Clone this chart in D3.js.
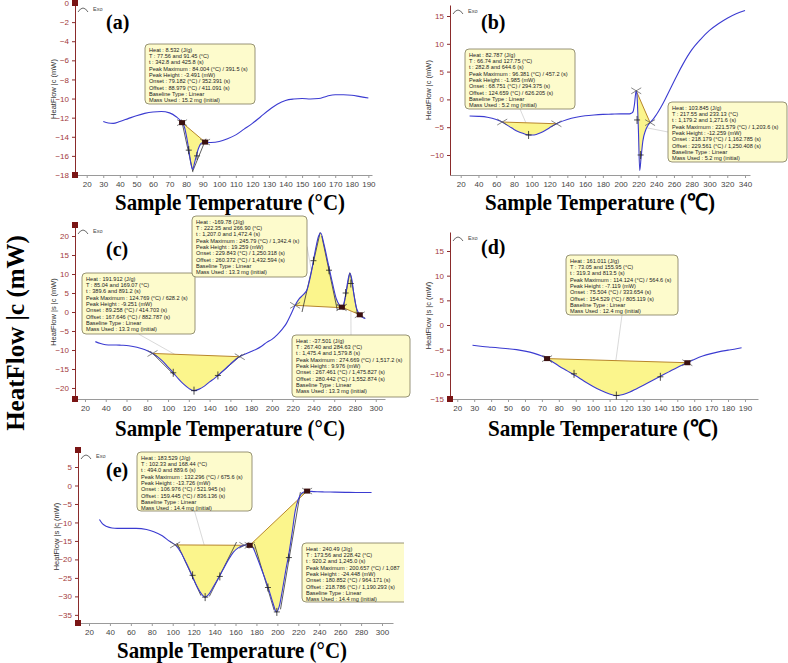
<!DOCTYPE html>
<html>
<head>
<meta charset="utf-8">
<script src="https://cdn.jsdelivr.net/npm/d3@7"></script>
<style>
  body { margin: 0; background: #fff; }
  svg { display: block; font-family: "Liberation Sans", Arial, sans-serif; }
</style>
</head>
<body>
<svg id="chart" width="788" height="663"></svg>
<script>
// ---- panel (a) ----
var aTemp = [30, 33, 36, 40, 45, 50, 55, 60, 65, 70, 74, 77.5, 79, 80.5, 82, 83, 84, 85, 86, 87.5, 89, 91, 95, 100, 105, 110, 115, 120, 125, 130, 135, 140, 145, 150, 155, 160, 165, 170, 175, 180, 185, 190];
var aHeat = [-12.4, -12.55, -12.6, -12.4, -12.1, -11.8, -11.55, -11.4, -11.35, -11.5, -11.9, -12.5, -13.0, -14.2, -15.8, -16.9, -17.4, -16.8, -16.1, -15.2, -14.7, -14.55, -14.6, -14.5, -14.2, -13.8, -13.2, -12.6, -11.9, -11.2, -10.6, -10.2, -10.05, -10.0, -10.05, -10.0, -9.75, -9.6, -9.6, -9.65, -9.8, -9.95];
var aPeaks = [[77.56, 91.45]];
var aNote = ["Heat :  8.532 (J/g)", "T : 77.56 and 91.45 (°C)", "t : 342.8 and 425.8 (s)", "Peak Maximum :  84.004 (°C) / 391.5 (s)", "Peak Height :  -3.491 (mW)", "Onset :  79.182 (°C) / 352.391 (s)", "Offset :  88.979 (°C) / 411.091 (s)", "Baseline Type :  Linear", "Mass Used :  15.2 mg (initial)"];

// ---- panel (b) ----
var bTemp = [30, 40, 50, 60, 66, 70, 75, 80, 85, 90, 95, 100, 105, 110, 115, 120, 125, 130, 140, 150, 160, 170, 180, 190, 200, 205, 210, 212, 214, 215.5, 217.5, 218.5, 220, 221.5, 223, 225, 228, 231, 233, 236, 240, 245, 250, 255, 260, 265, 270, 280, 290, 300, 310, 320, 330, 340];
var bHeat = [-3.0, -3.05, -3.2, -3.6, -4.0, -4.4, -4.9, -5.4, -5.8, -6.1, -6.35, -6.4, -6.3, -6.0, -5.6, -5.1, -4.6, -4.2, -3.6, -3.2, -2.95, -2.8, -2.7, -2.65, -2.6, -2.6, -2.6, -2.5, -2.2, -1.0, 1.6, 0.5, -5.5, -12.8, -10.5, -7.5, -5.6, -4.6, -4.2, -3.7, -2.8, -1.5, 0, 1.6, 3.2, 4.8, 6.3, 8.9, 10.8, 12.4, 13.6, 14.6, 15.4, 16.0];
var bPeaks = [[66.74, 127.75], [217.55, 233.13]];
var bNote1 = ["Heat :  82.787 (J/g)", "T : 66.74 and 127.75 (°C)", "t : 282.8 and 644.6 (s)", "Peak Maximum :  96.381 (°C) / 457.2 (s)", "Peak Height :  -1.985 (mW)", "Onset :  68.751 (°C) / 294.375 (s)", "Offset :  124.659 (°C) / 626.205 (s)", "Baseline Type :  Linear", "Mass Used :  5.2 mg (initial)"];
var bNote2 = ["Heat :  103.845 (J/g)", "T : 217.55 and 233.13 (°C)", "t : 1,179.2 and 1,271.6 (s)", "Peak Maximum :  221.579 (°C) / 1,203.6 (s)", "Peak Height :  -12.259 (mW)", "Onset :  218.179 (°C) / 1,162.785 (s)", "Offset :  229.561 (°C) / 1,250.408 (s)", "Baseline Type :  Linear", "Mass Used :  5.2 mg (initial)"];

// ---- panel (c) ----
var cTemp = [30, 35, 40, 45, 50, 55, 60, 65, 70, 75, 80, 85, 90, 95, 100, 105, 110, 115, 120, 125, 130, 135, 140, 145, 150, 155, 160, 165, 170, 175, 180, 185, 190, 195, 200, 205, 210, 214, 218, 222, 226, 230, 234, 238, 242, 245, 247, 250, 254, 258, 262, 265, 267, 269, 271, 273, 275, 277, 279, 281, 283, 285, 288, 290];
var cHeat = [-7.8, -8.3, -8.6, -8.7, -8.7, -8.75, -8.8, -9.0, -9.3, -9.7, -10.2, -10.9, -11.8, -13.0, -14.5, -16.0, -17.6, -19.0, -20.1, -20.7, -20.3, -19.5, -18.4, -17.4, -16.2, -15.0, -13.7, -12.5, -11.6, -11.0, -10.4, -9.8, -9.0, -8.0, -7.2, -6.0, -4.5, -3.0, -0.8, 1.6, 3.4, 4.5, 6.0, 10.5, 16.5, 20.0, 20.8, 18.0, 13.0, 8.0, 3.5, 1.8, 1.1, 2.0, 4.5, 8.0, 10.2, 8.5, 4.5, 1.5, 0, -0.9, -1.5, -1.7];
var cPeaks = [[85.04, 169.07], [222.35, 266.9], [267.4, 284.63]];
var cNote1 = ["Heat :  191.912 (J/g)", "T : 85.04 and 169.07 (°C)", "t : 389.6 and 891.2 (s)", "Peak Maximum :  124.769 (°C) / 628.2 (s)", "Peak Height :  -9.251 (mW)", "Onset :  89.258 (°C) / 414.703 (s)", "Offset :  167.646 (°C) / 882.787 (s)", "Baseline Type :  Linear", "Mass Used :  13.3 mg (initial)"];
var cNote2 = ["Heat :  -169.78 (J/g)", "T : 222.35 and 266.90 (°C)", "t : 1,207.0 and 1,472.4 (s)", "Peak Maximum :  245.79 (°C) / 1,342.4 (s)", "Peak Height :  19.259 (mW)", "Onset :  229.843 (°C) / 1,250.318 (s)", "Offset :  260.372 (°C) / 1,432.594 (s)", "Baseline Type :  Linear", "Mass Used :  13.3 mg (initial)"];
var cNote3 = ["Heat :  -37.501 (J/g)", "T : 267.40 and 284.63 (°C)", "t : 1,475.4 and 1,579.8 (s)", "Peak Maximum :  274.669 (°C) / 1,517.2 (s)", "Peak Height :  9.976 (mW)", "Onset :  267.461 (°C) / 1,475.827 (s)", "Offset :  280.442 (°C) / 1,552.874 (s)", "Baseline Type :  Linear", "Mass Used :  13.3 mg (initial)"];

// ---- panel (d) ----
var dTemp = [29, 35, 40, 45, 50, 55, 60, 65, 70, 73, 76, 80, 85, 90, 95, 100, 105, 110, 114, 118, 122, 126, 130, 135, 140, 145, 150, 155, 160, 165, 170, 175, 180, 185, 188];
var dHeat = [-4.1, -4.35, -4.5, -4.65, -4.8, -5.0, -5.3, -5.7, -6.3, -6.8, -7.4, -8.3, -9.3, -10.3, -11.4, -12.4, -13.3, -14.0, -14.3, -14.1, -13.6, -12.9, -12.2, -11.3, -10.4, -9.5, -8.6, -7.8, -7.0, -6.3, -5.8, -5.4, -5.1, -4.8, -4.6];
var dPeaks = [[73.05, 155.95]];
var dNote = ["Heat :  161.011 (J/g)", "T : 73.05 and 155.95 (°C)", "t : 319.3 and 813.5 (s)", "Peak Maximum :  114.124 (°C) / 564.6 (s)", "Peak Height :  -7.119 (mW)", "Onset :  75.504 (°C) / 333.654 (s)", "Offset :  154.529 (°C) / 805.119 (s)", "Baseline Type :  Linear", "Mass Used :  12.4 mg (initial)"];

// ---- panel (e) ----
var eTemp = [30, 33, 37, 42, 47, 55, 65, 75, 82, 90, 97, 103, 108, 113, 118, 123, 128, 131, 134, 138, 143, 148, 153, 158, 163, 168, 172, 176, 180, 184, 188, 192, 196, 199, 202, 205, 208, 211, 214, 217, 220, 223, 226, 228, 232, 238, 245, 255, 265, 275, 285, 290];
var eHeat = [-9.2, -10.4, -11.1, -11.5, -11.6, -11.6, -11.6, -11.9, -12.5, -13.6, -15.1, -16.2, -18.2, -21.0, -24.0, -27.2, -29.5, -30.2, -29.6, -27.8, -25.4, -22.8, -20.2, -18.0, -16.8, -16.2, -16.0, -16.5, -19.0, -22.0, -25.0, -28.3, -32.0, -34.2, -32.5, -28.0, -23.0, -18.5, -13.0, -7.0, -3.8, -2.2, -1.7, -1.5, -1.6, -1.7, -1.75, -1.8, -1.85, -1.9, -1.9, -1.9];
var ePeaks = [[102.33, 168.44], [173.56, 228.42]];
var eNote1 = ["Heat :  183.529 (J/g)", "T : 102.33 and 168.44 (°C)", "t : 494.0 and 889.6 (s)", "Peak Maximum :  132.296 (°C) / 675.6 (s)", "Peak Height :  -13.726 (mW)", "Onset :  106.976 (°C) / 521.945 (s)", "Offset :  159.445 (°C) / 836.136 (s)", "Baseline Type :  Linear", "Mass Used :  14.4 mg (initial)"];
var eNote2 = ["Heat :  240.49 (J/g)", "T : 173.56 and 228.42 (°C)", "t : 920.2 and 1,245.0 (s)", "Peak Maximum :  200.657 (°C) / 1,087", "Peak Height :  -24.448 (mW)", "Onset :  180.852 (°C) / 964.171 (s)", "Offset :  218.786 (°C) / 1,190.293 (s)", "Baseline Type :  Linear", "Mass Used :  14.4 mg (initial)"];

// layout of the five panels (pixels + axis domains)
var panels = [
  { tag: "(a)", temp: aTemp, heat: aHeat, peaks: aPeaks, yLabel: "HeatFlow |c (mW)", unit: "(°C)",
    left: 75, right: 372, top: 3, bottom: 175, xDom: [12.94, 192.2], yDom: [-18, 0],
    xTicks: d3.range(20, 191, 10), yTicks: d3.range(-18, 1, 2), squares: [true, true],
    tagPos: [106, 29], titlePos: [230, 210],
    boxes: [{ note: aNote, x: 145, y: 44, w: 110, h: 60 }],
    ends: ["sq"], plus: [[81.6, -15.4], [86.6, -16.0]],
    tangents: [[[77.2, -12.2], [84.1, -17.7]], [[84, -17.6], [92, -14.2]]] },
  { tag: "(b)", temp: bTemp, heat: bHeat, peaks: bPeaks, yLabel: "HeatFlow |c (mW)", unit: "(℃)",
    left: 450, right: 750, top: 5, bottom: 175, xDom: [7.96, 345.6], yDom: [-13.6, 16.98],
    xTicks: d3.range(20, 341, 20), yTicks: d3.range(-10, 16, 5), squares: [false, false],
    tagPos: [481, 29], titlePos: [600, 210],
    boxes: [{ note: bNote1, x: 465, y: 49, w: 110, h: 60, to: [96, -5.2], from: "b" },
            { note: bNote2, x: 668, y: 102, w: 119, h: 60, to: [226, -5], from: "l" }],
    ends: ["x", "x"], plus: [[96.4, -6.4], [218.5, -3.7], [222.5, -10]],
    tangents: [] },
  { tag: "(c)", temp: cTemp, heat: cHeat, peaks: cPeaks, yLabel: "HeatFlow |s |c (mW)", unit: "(°C)",
    left: 75, right: 385, top: 225, bottom: 399, xDom: [10.4, 308.9], yDom: [-22.9, 22.9],
    xTicks: d3.range(20, 301, 20), yTicks: d3.range(-20, 21, 5), squares: [true, true],
    tagPos: [106, 256], titlePos: [230, 436],
    boxes: [{ note: cNote1, x: 82, y: 273, w: 113, h: 61, to: [125, -14], from: "b" },
            { note: cNote2, x: 192, y: 216, w: 115, h: 61, to: [240, 8], from: "r" },
            { note: cNote3, x: 292, y: 335, w: 118, h: 62, to: [276, 3], from: "t" }],
    ends: ["x", "x", "sq"], plus: [[105, -16], [148, -16.7], [125, -20.7], [240, 13.5], [255, 11], [271, 5], [276, 7.5]],
    tangents: [[[83, -10.3], [106, -16.6]], [[147, -17], [171, -11.2]], [[229, 0], [246.5, 21]], [[248, 20], [263, 0.5]],
               [[268.5, 0.5], [275, 10.4]], [[275.5, 10.2], [282.5, -0.8]]] },
  { tag: "(d)", temp: dTemp, heat: dHeat, peaks: dPeaks, yLabel: "HeatFlow |s |c (mW)", unit: "(℃)",
    left: 450, right: 758, top: 232, bottom: 399, xDom: [15.7, 197.7], yDom: [-15, 18.85],
    xTicks: d3.range(20, 191, 10), yTicks: d3.range(-15, 16, 5), squares: [false, true],
    tagPos: [481, 254], titlePos: [603, 436],
    boxes: [{ note: dNote, x: 566, y: 255, w: 112, h: 60, to: [113, -9], from: "b" }],
    ends: ["sq"], plus: [[89, -9.9], [140, -10.5], [114, -14.3]],
    tangents: [[[71, -6.2], [76, -7.6]], [[153, -8.1], [158, -7.2]]] },
  { tag: "(e)", temp: eTemp, heat: eHeat, peaks: ePeaks, yLabel: "HeatFlow |s |c (mW)", unit: "(°C)",
    left: 78, right: 393, top: 450, bottom: 623, xDom: [9.5, 310.5], yDom: [-37.2, 9.6],
    xTicks: d3.range(20, 301, 20), yTicks: d3.range(-35, 6, 5), squares: [true, true],
    tagPos: [106, 477], titlePos: [232, 658],
    boxes: [{ note: eNote1, x: 137, y: 452, w: 115, h: 59, to: [131, -17], from: "b" },
            { note: eNote2, x: 302, y: 543, w: 118, h: 59, clip: true }],
    ends: ["x", "sq"], plus: [[119, -24.3], [145, -24.6], [131, -30.2], [191, -27.6], [211, -19.5], [199.5, -34.2]],
    tangents: [[[104, -15.6], [127, -29.8]], [[135, -30], [161, -15.3]], [[178, -15.8], [197, -33.8]], [[203, -33.5], [222, -1.8]]] }
];

var svg = d3.select("#chart");

svg.append("defs").append("clipPath")
  .attr("id", "clipE")
  .append("rect")
  .attr("x", 0).attr("y", 0).attr("width", 404).attr("height", 663);

// value of a curve at a given temperature (for baseline end points)
function valueAt(temp, heat, t) {
  var i = d3.bisectLeft(temp, t);
  if (i <= 0) return heat[0];
  if (i >= temp.length) return heat[heat.length - 1];
  var f = (t - temp[i - 1]) / (temp[i] - temp[i - 1]);
  return heat[i - 1] + f * (heat[i] - heat[i - 1]);
}

function drawPanel(p) {
  var x = d3.scaleLinear().domain(p.xDom).range([p.left, p.right]);
  var y = d3.scaleLinear().domain(p.yDom).range([p.bottom, p.top]);
  var g = svg.append("g");

  // x axis
  var xAxis = g.append("g")
    .attr("transform", `translate(0, ${p.bottom})`)
    .call(d3.axisBottom(x).tickValues(p.xTicks).tickSize(3).tickSizeOuter(0));
  xAxis.select(".domain").attr("stroke", "#9a9a9a");
  xAxis.selectAll(".tick line").attr("stroke", "#9a9a9a");
  xAxis.selectAll(".tick text")
    .attr("fill", "#444")
    .attr("font-size", "8px");

  // y axis
  var yAxis = g.append("g")
    .attr("transform", `translate(${p.left}, 0)`)
    .call(d3.axisLeft(y).tickValues(p.yTicks).tickSize(3).tickSizeOuter(0));
  yAxis.select(".domain").attr("stroke", "#8a2b2b");
  yAxis.selectAll(".tick line").attr("stroke", "#8a2b2b");
  yAxis.selectAll(".tick text")
    .attr("fill", "#a33a3a")
    .attr("font-size", "8px");

  // red squares on y axis ends
  if (p.squares[0]) g.append("rect").attr("x", p.left - 3).attr("y", p.top - 3).attr("width", 6).attr("height", 6).attr("fill", "#7a1515");
  if (p.squares[1]) g.append("rect").attr("x", p.left - 3).attr("y", p.bottom - 3).attr("width", 6).attr("height", 6).attr("fill", "#7a1515");

  // small axis title
  g.append("text")
    .attr("transform", `translate(${p.left - 19}, ${(p.top + p.bottom) / 2}) rotate(-90)`)
    .attr("text-anchor", "middle")
    .attr("font-size", "7.5px")
    .attr("fill", "#333")
    .text(p.yLabel);

  // Exo marker
  g.append("path")
    .attr("d", `M${p.left + 3},${p.top + 9} Q${p.left + 8},${p.top + 1} ${p.left + 13},${p.top + 9}`)
    .attr("fill", "none").attr("stroke", "#444").attr("stroke-width", 0.8);
  g.append("text")
    .attr("x", p.left + 18).attr("y", p.top + 8)
    .attr("font-size", "5.5px").attr("fill", "#444")
    .text("Exo");

  // panel tag and x title
  g.append("text")
    .attr("x", p.tagPos[0]).attr("y", p.tagPos[1])
    .attr("font-family", "'Liberation Serif', 'Times New Roman', serif")
    .attr("font-weight", "bold").attr("font-size", "20px")
    .text(p.tag);
  g.append("text")
    .attr("x", p.titlePos[0] - 115).attr("y", p.titlePos[1])
    .attr("font-family", "'Liberation Serif', 'Times New Roman', serif")
    .attr("font-weight", "bold").attr("font-size", "23px")
    .attr("textLength", 230)
    .attr("lengthAdjust", "spacingAndGlyphs")
    .text("Sample Temperature " + p.unit);

  var line = d3.line().x(d => x(d[0])).y(d => y(d[1])).curve(d3.curveMonotoneX);
  var pts = p.temp.map((t, i) => [t, p.heat[i]]);

  // leader lines from boxes
  p.boxes.forEach(function(b) {
    if (!b.to) return;
    var sx = b.x + b.w / 2, sy = b.y + b.h;
    if (b.from === "l") { sx = b.x; sy = b.y + b.h / 2; }
    if (b.from === "r") { sx = b.x + b.w; sy = b.y + b.h / 2; }
    if (b.from === "t") { sx = b.x + b.w / 2; sy = b.y; }
    g.append("line")
      .attr("x1", sx).attr("y1", sy)
      .attr("x2", x(b.to[0])).attr("y2", y(b.to[1]))
      .attr("stroke", "#c8c8c8").attr("stroke-width", 0.7);
  });

  // integrated peak areas
  p.peaks.forEach(function(pk, k) {
    var v1 = valueAt(p.temp, p.heat, pk[0]);
    var v2 = valueAt(p.temp, p.heat, pk[1]);
    var area = [[pk[0], v1]].concat(pts.filter(d => d[0] > pk[0] && d[0] < pk[1]), [[pk[1], v2]]);
    g.append("path")
      .attr("d", line(area) + "Z")
      .attr("fill", "#fbf58c")
      .attr("stroke", "none");
    g.append("line")
      .attr("x1", x(pk[0])).attr("y1", y(v1))
      .attr("x2", x(pk[1])).attr("y2", y(v2))
      .attr("stroke", "#b8862b").attr("stroke-width", 1);
  });

  // tangent lines
  p.tangents.forEach(function(tl) {
    g.append("line")
      .attr("x1", x(tl[0][0])).attr("y1", y(tl[0][1]))
      .attr("x2", x(tl[1][0])).attr("y2", y(tl[1][1]))
      .attr("stroke", "#333").attr("stroke-width", 0.8);
  });

  // the DSC curve
  g.append("path")
    .datum(pts)
    .attr("d", line)
    .attr("fill", "none")
    .attr("stroke", "#3b3bd1")
    .attr("stroke-width", 1.1);

  // end markers of each baseline
  p.peaks.forEach(function(pk, k) {
    pk.forEach(function(t) {
      var cx = x(t), cy = y(valueAt(p.temp, p.heat, t));
      g.append("path")
        .attr("d", `M${cx - 5},${cy - 3}L${cx + 5},${cy + 3}M${cx - 5},${cy + 3}L${cx + 5},${cy - 3}`)
        .attr("stroke", "#555").attr("stroke-width", 0.7);
      if (p.ends[k] === "sq") {
        g.append("rect")
          .attr("x", cx - 3).attr("y", cy - 2.5).attr("width", 6).attr("height", 5)
          .attr("fill", "#3a1010");
      }
    });
  });

  // plus marks on the curve
  p.plus.forEach(function(d) {
    var cx = x(d[0]), cy = y(d[1]);
    g.append("path")
      .attr("d", `M${cx - 3},${cy}L${cx + 3},${cy}M${cx},${cy - 4}L${cx},${cy + 4}`)
      .attr("stroke", "#222").attr("stroke-width", 0.8);
  });

  // annotation boxes
  p.boxes.forEach(function(b) {
    var bg = g.append("g");
    if (b.clip) bg.attr("clip-path", "url(#clipE)");
    bg.append("rect")
      .attr("x", b.x).attr("y", b.y).attr("width", b.w).attr("height", b.h)
      .attr("rx", 4)
      .attr("fill", "#fdfbcc")
      .attr("stroke", "#7d7a5a").attr("stroke-width", 0.8);
    bg.selectAll("text.note")
      .data(b.note)
      .enter()
      .append("text")
      .attr("x", b.x + 4)
      .attr("y", (d, i) => b.y + 7.5 + i * 6.35)
      .attr("font-size", "5.6px")
      .attr("fill", "#222")
      .text(d => d);
  });
}

panels.forEach(drawPanel);

// shared y title
svg.append("text")
  .attr("transform", "translate(24, 333) rotate(-90)")
  .attr("text-anchor", "middle")
  .attr("font-family", "'Liberation Serif', 'Times New Roman', serif")
  .attr("font-weight", "bold")
  .attr("font-size", "25px")
  .text("HeatFlow |c (mW)");
</script>
</body>
</html>
